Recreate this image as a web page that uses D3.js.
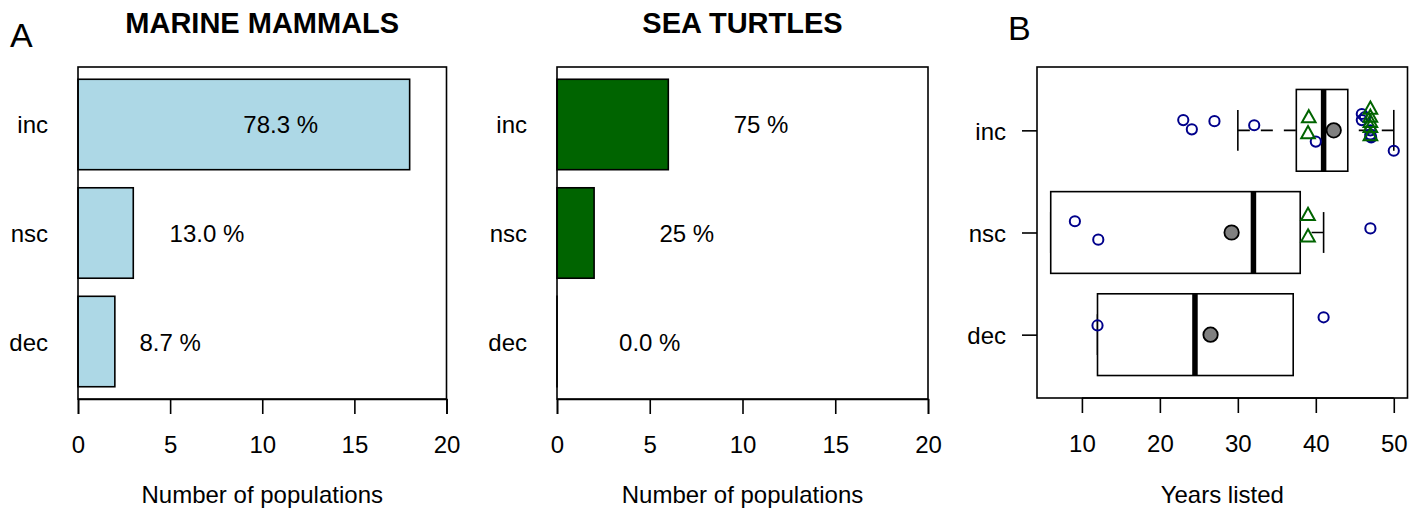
<!DOCTYPE html>
<html>
<head>
<meta charset="utf-8">
<script src="https://cdn.jsdelivr.net/npm/d3@7"></script>
<style>
  html, body { margin: 0; padding: 0; background: #fff; }
  svg { display: block; }
  text { font-family: "Liberation Sans", Arial, Helvetica, sans-serif; fill: #000; }
</style>
</head>
<body>
<svg id="chart" width="1418" height="516"></svg>
<script>
// ---------------- DATA ----------------
const categories = ["inc", "nsc", "dec"];
const mammalCounts = [18, 3, 2];
const mammalLabels = ["78.3 %", "13.0 %", "8.7 %"];
const turtleCounts = [6, 2, 0];
const turtleLabels = ["75 %", "25 %", "0.0 %"];
const percentLabelAt = [11, 7, 5];
const countTicks = [0, 5, 10, 15, 20];
const yearTicks = [10, 20, 30, 40, 50];

// boxplot stats per category: [lower whisker, Q1, median, Q3, upper whisker]
const boxStats = [
  [30, 37.5, 41, 44.1, 50],
  [6, 6, 32, 38, 41],
  [12, 12, 24.5, 37.1, 37.1]
];
const boxMeans = [42.3, 29.2, 26.5];

// individual populations: [years listed, vertical jitter]
const circlesInc = [[23.0, 0.10], [24.1, 0.01], [27.0, 0.09], [32.1, 0.05], [40.0, -0.11],
                    [45.9, 0.16], [45.9, 0.10], [46.3, 0.13], [47, 0.0], [47, -0.04],
                    [47, -0.06], [47.1, -0.07], [50, -0.20]];
const circlesNsc = [[9.1, 0.11], [12.1, -0.07], [47, 0.04]];
const circlesDec = [[12, 0.09], [41, 0.17]];
const trianglesInc = [[39.1, 0.125], [39, -0.03], [47, 0.21], [47, 0.13], [47, 0.08], [47, 0.03], [47, -0.05]];
const trianglesNsc = [[39, 0.17], [39, -0.04]];
const trianglesDec = [];

// ---------------- DRAWING ----------------
const svg = d3.select("#chart");
const FS = 24;
const panelTop = 67, panelBottom = 399;

function barPanel(x0, x1, counts, labels, color, title) {
  const x = d3.scaleLinear().domain([0, 20]).range([x0, x1]);
  const y = d3.scaleBand().domain(categories).range([panelTop, panelBottom])
              .paddingInner(1 / 6).paddingOuter(0.113);
  const g = svg.append("g");

  g.selectAll("rect.bar").data(categories).join("rect")
    .attr("x", x(0))
    .attr("y", d => y(d))
    .attr("width", (d, i) => Math.max(x(counts[i]) - x(0), 0.01))
    .attr("height", y.bandwidth())
    .attr("fill", color)
    .attr("stroke", "#000")
    .attr("stroke-width", 1.6);

  g.selectAll("text.cat").data(categories).join("text")
    .attr("x", x0 - 30)
    .attr("y", d => y(d) + y.bandwidth() / 2 + 9)
    .attr("text-anchor", "end")
    .attr("font-size", FS)
    .text(d => d);

  g.selectAll("text.pct").data(categories).join("text")
    .attr("x", (d, i) => x(percentLabelAt[i]))
    .attr("y", d => y(d) + y.bandwidth() / 2 + 9)
    .attr("text-anchor", "middle")
    .attr("font-size", FS)
    .text((d, i) => labels[i]);

  g.append("rect")
    .attr("x", x0).attr("y", panelTop)
    .attr("width", x1 - x0).attr("height", panelBottom - panelTop)
    .attr("fill", "none").attr("stroke", "#000").attr("stroke-width", 1.6);

  const ax = g.append("g").attr("transform", `translate(0,${panelBottom})`)
    .call(d3.axisBottom(x).tickValues(countTicks).tickSize(15).tickPadding(22)
          .tickFormat(d3.format("d")));
  ax.select(".domain").attr("stroke", "#000").attr("stroke-width", 1.6);
  ax.selectAll(".tick line").attr("stroke", "#000").attr("stroke-width", 1.6);
  ax.selectAll(".tick text").attr("font-size", FS)
    .attr("font-family", "Liberation Sans, Arial, sans-serif").attr("fill", "#000");

  g.append("text")
    .attr("x", (x0 + x1) / 2).attr("y", 503)
    .attr("text-anchor", "middle").attr("font-size", FS)
    .text("Number of populations");

  g.append("text")
    .attr("x", (x0 + x1) / 2).attr("y", 33)
    .attr("text-anchor", "middle").attr("font-size", 29).attr("font-weight", "bold")
    .text(title);
}

barPanel(78, 446.5, mammalCounts, mammalLabels, "#ADD8E6", "MARINE MAMMALS");
barPanel(557, 928, turtleCounts, turtleLabels, "#006400", "SEA TURTLES");

svg.append("text").attr("x", 10).attr("y", 46.5).attr("font-size", 34).text("A");
svg.append("text").attr("x", 1008).attr("y", 40).attr("font-size", 34).text("B");

// ---------------- PANEL B ----------------
const bx0 = 1037, bx1 = 1407.5, bTop = 67, bBottom = 398;
const xB = d3.scaleLinear().domain([4.24, 51.76]).range([bx0, bx1]);
const yB = d3.scaleLinear().domain([0.38, 3.62]).range([bBottom, bTop]);
const pos = i => 3 - i;   // inc at top
const gB = svg.append("g");
const half = 0.4, staple = 0.2;

boxStats.forEach((s, i) => {
  const p = pos(i);
  [[s[0], s[1]], [s[4], s[3]]].forEach(([a, b]) => {
    if (a !== b) {
      gB.append("line")
        .attr("x1", xB(a)).attr("x2", xB(b))
        .attr("y1", yB(p)).attr("y2", yB(p))
        .attr("stroke", "#000").attr("stroke-width", 1.6)
        .attr("stroke-dasharray", "12,11");
    }
  });
  [s[0], s[4]].forEach(v => {
    gB.append("line")
      .attr("x1", xB(v)).attr("x2", xB(v))
      .attr("y1", yB(p + staple)).attr("y2", yB(p - staple))
      .attr("stroke", "#000").attr("stroke-width", 1.6);
  });
  gB.append("rect")
    .attr("x", xB(s[1])).attr("y", yB(p + half))
    .attr("width", xB(s[3]) - xB(s[1])).attr("height", yB(p - half) - yB(p + half))
    .attr("fill", "#fff").attr("stroke", "#000").attr("stroke-width", 1.6);
  gB.append("line")
    .attr("x1", xB(s[2])).attr("x2", xB(s[2]))
    .attr("y1", yB(p + half)).attr("y2", yB(p - half))
    .attr("stroke", "#000").attr("stroke-width", 5.5);
});

const circleSets = [circlesInc, circlesNsc, circlesDec];
const triSets = [trianglesInc, trianglesNsc, trianglesDec];
circleSets.forEach((set, i) => {
  gB.selectAll(null).data(set).join("circle")
    .attr("cx", d => xB(d[0]))
    .attr("cy", d => yB(pos(i) + d[1]))
    .attr("r", 5.1)
    .attr("fill", "none").attr("stroke", "#00008B").attr("stroke-width", 2);
});
const tri = "M0,-7.4L6.8,4.8L-6.8,4.8Z";
triSets.forEach((set, i) => {
  gB.selectAll(null).data(set).join("path")
    .attr("d", tri)
    .attr("transform", d => `translate(${xB(d[0])},${yB(pos(i) + d[1])})`)
    .attr("fill", "none").attr("stroke", "#006400").attr("stroke-width", 2);
});

gB.selectAll("circle.mean").data(boxMeans).join("circle")
  .attr("class", "mean")
  .attr("cx", d => xB(d))
  .attr("cy", (d, i) => yB(pos(i)))
  .attr("r", 7.2)
  .attr("fill", "#808080").attr("stroke", "#000").attr("stroke-width", 1.8);

gB.append("rect")
  .attr("x", bx0).attr("y", bTop)
  .attr("width", bx1 - bx0).attr("height", bBottom - bTop)
  .attr("fill", "none").attr("stroke", "#000").attr("stroke-width", 1.6);

const yAxis = gB.append("g").attr("transform", `translate(${bx0},0)`)
  .call(d3.axisLeft(yB).tickValues(categories.map((c, i) => pos(i)))
        .tickSize(15).tickPadding(16).tickFormat((d) => categories[3 - d]));
yAxis.select(".domain").remove();
yAxis.selectAll(".tick line").attr("stroke", "#000").attr("stroke-width", 1.6);
yAxis.selectAll(".tick text").attr("font-size", FS).attr("dy", "0.38em")
  .attr("font-family", "Liberation Sans, Arial, sans-serif").attr("fill", "#000");

const xAxis = gB.append("g").attr("transform", `translate(0,${bBottom})`)
  .call(d3.axisBottom(xB).tickValues(yearTicks).tickSize(15).tickPadding(22)
        .tickFormat(d3.format("d")));
xAxis.select(".domain").remove();
xAxis.append("line").attr("x1", xB(yearTicks[0])).attr("x2", xB(yearTicks[yearTicks.length - 1]))
  .attr("stroke", "#000").attr("stroke-width", 1.6);
xAxis.selectAll(".tick line").attr("stroke", "#000").attr("stroke-width", 1.6);
xAxis.selectAll(".tick text").attr("font-size", FS)
  .attr("font-family", "Liberation Sans, Arial, sans-serif").attr("fill", "#000");

gB.append("text")
  .attr("x", (bx0 + bx1) / 2).attr("y", 503)
  .attr("text-anchor", "middle").attr("font-size", FS)
  .text("Years listed");
</script>
</body>
</html>
